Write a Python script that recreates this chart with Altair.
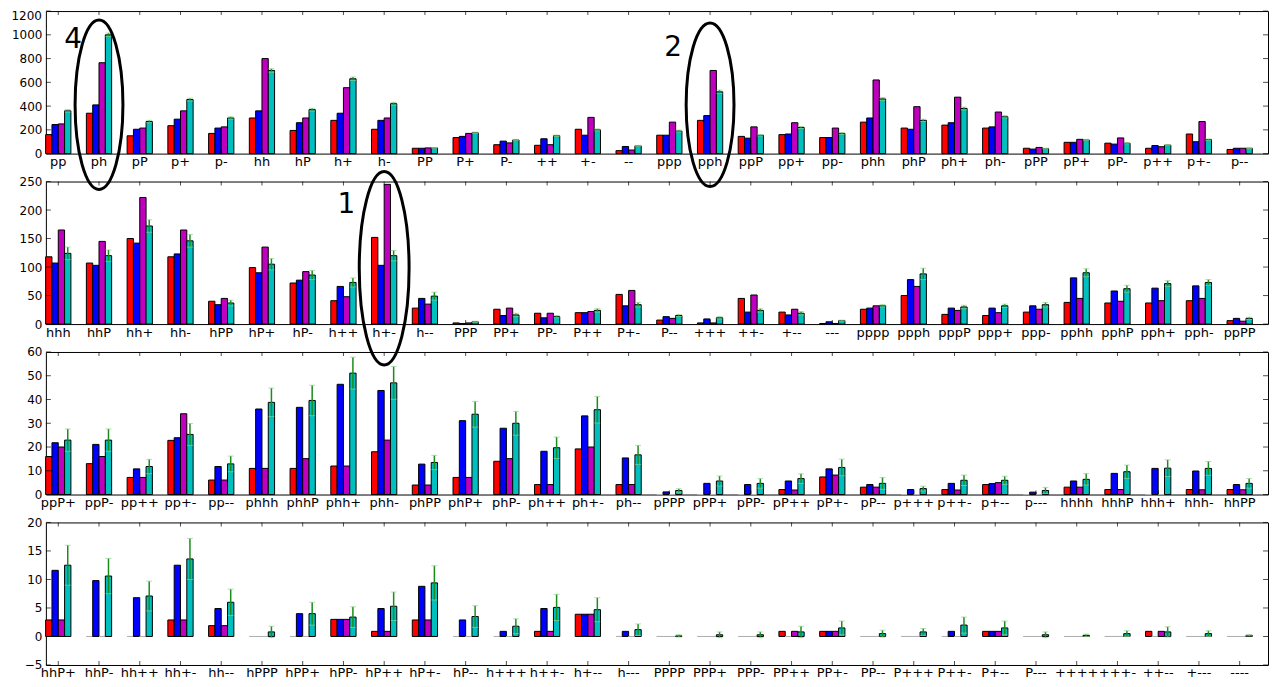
import altair as alt
import pandas as pd

# ---------------- data ----------------
SERIES = ["r", "b", "m", "c"]
COLORS = ["#ff0000", "#0000ff", "#bf00bf", "#00bfbf"]

cats1 = ["pp", "ph", "pP", "p+", "p-", "hh", "hP", "h+", "h-", "PP", "P+", "P-", "++", "+-", "--",
         "ppp", "pph", "ppP", "pp+", "pp-", "phh", "phP", "ph+", "ph-", "pPP", "pP+", "pP-", "p++", "p+-", "p--"]
red1 = [160, 340, 150, 235, 170, 300, 195, 280, 205, 45, 135, 75, 70, 205, 25,
        155, 280, 145, 160, 135, 265, 215, 240, 215, 45, 95, 88, 45, 165, 35]
blue1 = [245, 410, 205, 290, 215, 360, 260, 340, 280, 45, 145, 105, 125, 155, 60,
         155, 320, 130, 165, 135, 300, 205, 260, 225, 38, 95, 80, 68, 100, 45]
mag1 = [250, 765, 215, 360, 225, 800, 300, 555, 300, 48, 170, 90, 75, 305, 30,
        265, 700, 225, 260, 215, 620, 395, 475, 350, 52, 120, 132, 58, 270, 45]
cyan1 = [360, 1000, 270, 455, 300, 700, 370, 630, 420, 48, 175, 115, 150, 200, 65,
         190, 520, 155, 220, 170, 460, 280, 380, 310, 42, 115, 88, 72, 118, 45]
err1 = [10, 15, 10, 12, 10, 15, 12, 15, 12, 3, 6, 5, 6, 8, 4,
        8, 15, 6, 8, 7, 12, 10, 12, 10, 3, 5, 5, 4, 6, 3]

cats2 = ["hhh", "hhP", "hh+", "hh-", "hPP", "hP+", "hP-", "h++", "h+-", "h--", "PPP", "PP+", "PP-", "P++", "P+-",
         "P--", "+++", "++-", "+--", "---", "pppp", "ppph", "pppP", "ppp+", "ppp-", "pphh", "pphP", "pph+", "pph-", "ppPP"]
red2 = [118, 107, 150, 118, 40, 99, 72, 41, 152, 28, 2, 26, 19, 20, 52,
        7, 2, 45, 21, 1, 26, 50, 17, 15, 21, 38, 37, 37, 41, 6]
blue2 = [107, 103, 142, 123, 34, 90, 77, 66, 103, 45, 1, 15, 11, 20, 32,
         13, 9, 21, 16, 4, 28, 78, 28, 28, 32, 81, 58, 63, 67, 10]
mag2 = [165, 145, 222, 165, 45, 135, 92, 48, 245, 35, 2, 28, 19, 22, 59,
        10, 2, 51, 26, 1, 32, 66, 24, 20, 26, 45, 40, 41, 45, 5]
cyan2 = [124, 120, 172, 146, 37, 105, 86, 73, 120, 49, 4, 16, 13, 24, 34,
         15, 11, 24, 19, 6, 32, 88, 30, 32, 34, 90, 62, 71, 73, 10]
err2 = [11, 10, 11, 11, 5, 10, 8, 8, 9, 7, 1, 3, 2, 3, 4,
        2, 2, 3, 3, 1, 2, 10, 3, 3, 4, 7, 6, 5, 5, 2]

cats3 = ["ppP+", "ppP-", "pp++", "pp+-", "pp--", "phhh", "phhP", "phh+", "phh-", "phPP", "phP+", "phP-", "ph++", "ph+-", "ph--",
         "pPPP", "pPP+", "pPP-", "pP++", "pP+-", "pP--", "p+++", "p++-", "p+--", "p---", "hhhh", "hhhP", "hhh+", "hhh-", "hhPP"]
red3 = [16, 13, 7.2, 22.8, 6.1, 11, 11, 12, 18, 4, 7.2, 14, 4.2, 19.2, 4.2,
        0, 0, 0, 2.1, 7.4, 3.1, 0, 2.1, 4.2, 0, 3.1, 2.1, 0, 2.1, 2.1]
blue3 = [21.8, 21.1, 10.8, 23.9, 11.8, 36, 36.7, 46.4, 43.8, 12.8, 31.1, 27.9, 18.2, 33.1, 15.4,
         1.1, 4.7, 4.2, 5.7, 10.8, 4.2, 2.1, 4.7, 4.6, 1, 5.7, 8.9, 11, 9.9, 4.2]
mag3 = [20, 16, 7.2, 34, 6.1, 11, 15.1, 12, 22.9, 4, 7.2, 15.1, 4.2, 20, 4.2,
        0, 0, 0, 1.9, 8.2, 3.1, 0, 1.9, 5, 0, 3.1, 2.1, 0, 2, 2]
cyan3 = [22.9, 22.9, 11.8, 25.3, 12.9, 38.8, 39.6, 51.1, 47, 13.5, 33.8, 30, 19.7, 35.7, 16.7,
         1.7, 5.7, 4.7, 6.7, 11.4, 4.7, 2.5, 6, 6, 1.7, 6.4, 9.6, 11.1, 11, 4.7]
err3 = [4.7, 4.7, 3, 4.6, 3.3, 6, 6.4, 6.7, 6.9, 3, 5.4, 5, 4.5, 5.6, 4,
        0.7, 2.1, 2, 2, 3.5, 2.5, 1, 2.2, 1.7, 1.3, 2.4, 2.8, 3.5, 2.9, 2]

cats4 = ["hhP+", "hhP-", "hh++", "hh+-", "hh--", "hPPP", "hPP+", "hPP-", "hP++", "hP+-", "hP--", "h+++", "h++-", "h+--", "h---",
         "PPPP", "PPP+", "PPP-", "PP++", "PP+-", "PP--", "P+++", "P++-", "P+--", "P---", "++++", "+++-", "++--", "+---", "----"]
red4 = [2.9, 0, 0, 2.9, 1.9, 0, 0, 3, 0.9, 2.9, 0, 0, 0.9, 3.9, 0,
        0, 0, 0, 0.9, 0.9, 0, 0, 0, 0.9, 0, 0, 0, 0.9, 0, 0]
blue4 = [11.6, 9.8, 6.8, 12.5, 4.9, 0, 4, 3, 4.9, 8.8, 2.9, 0.9, 4.9, 3.9, 0.9,
         0, 0, 0, 0, 0.9, 0, 0, 0.9, 0.9, 0, 0, 0, 0, 0, 0]
mag4 = [2.9, 0, 0, 2.9, 1.9, 0, 0, 3, 0.9, 2.9, 0, 0, 0.9, 3.9, 0,
        0, 0, 0, 0.9, 0.9, 0, 0, 0, 0.9, 0, 0, 0, 0.9, 0, 0]
cyan4 = [12.5, 10.6, 7.1, 13.6, 6, 0.8, 4, 3.4, 5.3, 9.4, 3.5, 1.8, 5.1, 4.7, 1.2,
         0.1, 0.3, 0.3, 0.8, 1.5, 0.5, 0.8, 2, 1.5, 0.3, 0.2, 0.5, 0.8, 0.5, 0.2]
err4 = [3.5, 3.1, 2.6, 3.6, 2.3, 1, 2, 1.8, 2.5, 3, 1.9, 1.3, 2.3, 2.1, 1,
        0.2, 0.5, 0.5, 1, 1.2, 0.6, 0.6, 1.4, 1.2, 0.5, 0.2, 0.5, 0.9, 0.5, 0.1]

yticks1 = [0, 200, 400, 600, 800, 1000, 1200]
yticks2 = [0, 50, 100, 150, 200, 250]
yticks3 = [0, 10, 20, 30, 40, 50, 60]
yticks4 = [-5, 0, 5, 10, 15, 20]

# annotations: label, category, y value, panel
ann_labels = ["4", "2", "1"]
ann_cats = ["ph", "pph", "h+-"]
ann_panel = [1, 1, 2]
ann_ell_y = [411, 411, 98]
ann_txt_y = [956, 889, 208]

# ---------------- style ----------------
W, H = 1226, 143
FONT = "DejaVu Sans"
ELL_W = [48, 48, 50]
ELL_H = [170, 164, 194]
TXT_DX = [-26, -37, -38]


def ell_path(a):
    k = 0.5523
    return (f"M 0 -1 C {a*k:.4f} -1 {a:.4f} {-k:.4f} {a:.4f} 0 "
            f"C {a:.4f} {k:.4f} {a*k:.4f} 1 0 1 "
            f"C {-a*k:.4f} 1 {-a:.4f} {k:.4f} {-a:.4f} 0 "
            f"C {-a:.4f} {-k:.4f} {-a*k:.4f} -1 0 -1 Z")


def panel(idx, cats, red, blue, mag, cyan, err, ydom, yticks):
    rows = []
    for i, c in enumerate(cats):
        for s, vals in zip(SERIES, [red, blue, mag, cyan]):
            rows.append({"cat": c, "series": s, "v": vals[i]})
    bars_df = pd.DataFrame(rows)
    err_df = pd.DataFrame({
        "cat": cats,
        "series": ["c"] * len(cats),
        "lo": [v - e for v, e in zip(cyan, err)],
        "hi": [v + e for v, e in zip(cyan, err)],
    })

    # top-most tick label of the first panel is drawn as text so it does not push the layout down
    axis_vals = yticks[:-1] if idx == 1 else yticks

    xscale = alt.Scale(domain=cats, range=[-8, 1218], paddingInner=0.38, paddingOuter=0.19)
    xaxis = alt.Axis(title=None, labelAngle=0, labelFontSize=13, labelFont=FONT, labelColor="black",
                     ticks=False, domain=False, labelPadding=2, labelOverlap=False, grid=False)
    yscale = alt.Scale(domain=ydom, nice=False, zero=False)
    yaxis = alt.Axis(title=None, values=axis_vals, format="d", labelFontSize=12, labelFont=FONT,
                     labelColor="black", ticks=False, domain=False, grid=False, labelPadding=4,
                     minExtent=33, maxExtent=33)

    def X():
        return alt.X("cat:N", scale=xscale, axis=xaxis)

    def Y(f):
        return alt.Y(f"{f}:Q", scale=yscale, axis=yaxis)

    xoff = alt.XOffset("series:N", scale=alt.Scale(domain=SERIES, paddingInner=0, paddingOuter=0))

    bars = alt.Chart(bars_df).mark_bar(strokeWidth=1).encode(
        x=X(), xOffset=xoff, y=Y("v"),
        color=alt.Color("series:N", scale=alt.Scale(domain=SERIES, range=COLORS), legend=None),
        stroke=alt.condition("datum.v > 0", alt.value("black"), alt.value("#b0b0b0")),
    )
    erule = alt.Chart(err_df).mark_rule(color="#1a8c1a", strokeWidth=1.5).encode(
        x=X(), xOffset=xoff, y=Y("lo"), y2="hi:Q")
    ecap_hi = alt.Chart(err_df).mark_tick(orient="horizontal", size=6, thickness=1, color="#8fd18f").encode(
        x=X(), xOffset=xoff, y=Y("hi"))
    ecap_lo = alt.Chart(err_df).mark_tick(orient="horizontal", size=6, thickness=1, color="#8fd18f").encode(
        x=X(), xOffset=xoff, y=Y("lo"))

    tdf = pd.DataFrame({"cat": cats})
    xt_top = alt.Chart(tdf).mark_tick(orient="vertical", size=4, thickness=1, color="black").encode(
        x=X(), y=alt.value(2))
    xt_bot = alt.Chart(tdf).mark_tick(orient="vertical", size=4, thickness=1, color="black").encode(
        x=X(), y=alt.value(H - 2))
    ydf = pd.DataFrame({"t": yticks})
    yt_l = alt.Chart(ydf).mark_tick(orient="horizontal", size=5, thickness=1, color="black").encode(
        y=Y("t"), x=alt.value(2.5))
    yt_r = alt.Chart(ydf).mark_tick(orient="horizontal", size=5, thickness=1, color="black").encode(
        y=Y("t"), x=alt.value(W - 2.5))

    layers = [bars, erule, ecap_hi, ecap_lo, xt_top, xt_bot, yt_l, yt_r]

    if idx == 1:
        topdf = pd.DataFrame({"t": [yticks[-1]], "lab": [str(yticks[-1])]})
        toplab = alt.Chart(topdf).mark_text(
            font=FONT, fontSize=12, color="black", align="right", baseline="top"
        ).encode(y=Y("t"), x=alt.value(-4), text="lab:N")
        layers.append(toplab)

    for j in range(len(ann_labels)):
        if ann_panel[j] != idx:
            continue
        edf = pd.DataFrame({"cat": [ann_cats[j]], "y": [ann_ell_y[j]]})
        ell = alt.Chart(edf).mark_point(
            shape=ell_path(ELL_W[j] / ELL_H[j]), size=ELL_H[j] ** 2, filled=False,
            stroke="black", strokeWidth=3, opacity=1,
        ).encode(x=X(), y=Y("y"))
        tdf2 = pd.DataFrame({"cat": [ann_cats[j]], "y": [ann_txt_y[j]], "lab": [ann_labels[j]]})
        txt = alt.Chart(tdf2).mark_text(
            font=FONT, fontSize=28, color="black", dx=TXT_DX[j], align="center", baseline="middle"
        ).encode(x=X(), y=Y("y"), text="lab:N")
        layers += [ell, txt]

    return alt.layer(*layers).properties(width=W, height=H)


p1 = panel(1, cats1, red1, blue1, mag1, cyan1, err1, [0, 1200], yticks1)
p2 = panel(2, cats2, red2, blue2, mag2, cyan2, err2, [0, 250], yticks2)
p3 = panel(3, cats3, red3, blue3, mag3, cyan3, err3, [0, 60], yticks3)
p4 = panel(4, cats4, red4, blue4, mag4, cyan4, err4, [-5, 20], yticks4)

chart = alt.VConcatChart(vconcat=[p1, p2, p3, p4], spacing=28, bounds="flush").properties(
    padding={"left": 2, "top": 0, "right": 1, "bottom": 2}
).configure_view(stroke="black", strokeWidth=1).configure_axis(labelFont=FONT)

chart.save("out.html", embed_options={"renderer": "svg", "actions": False})
